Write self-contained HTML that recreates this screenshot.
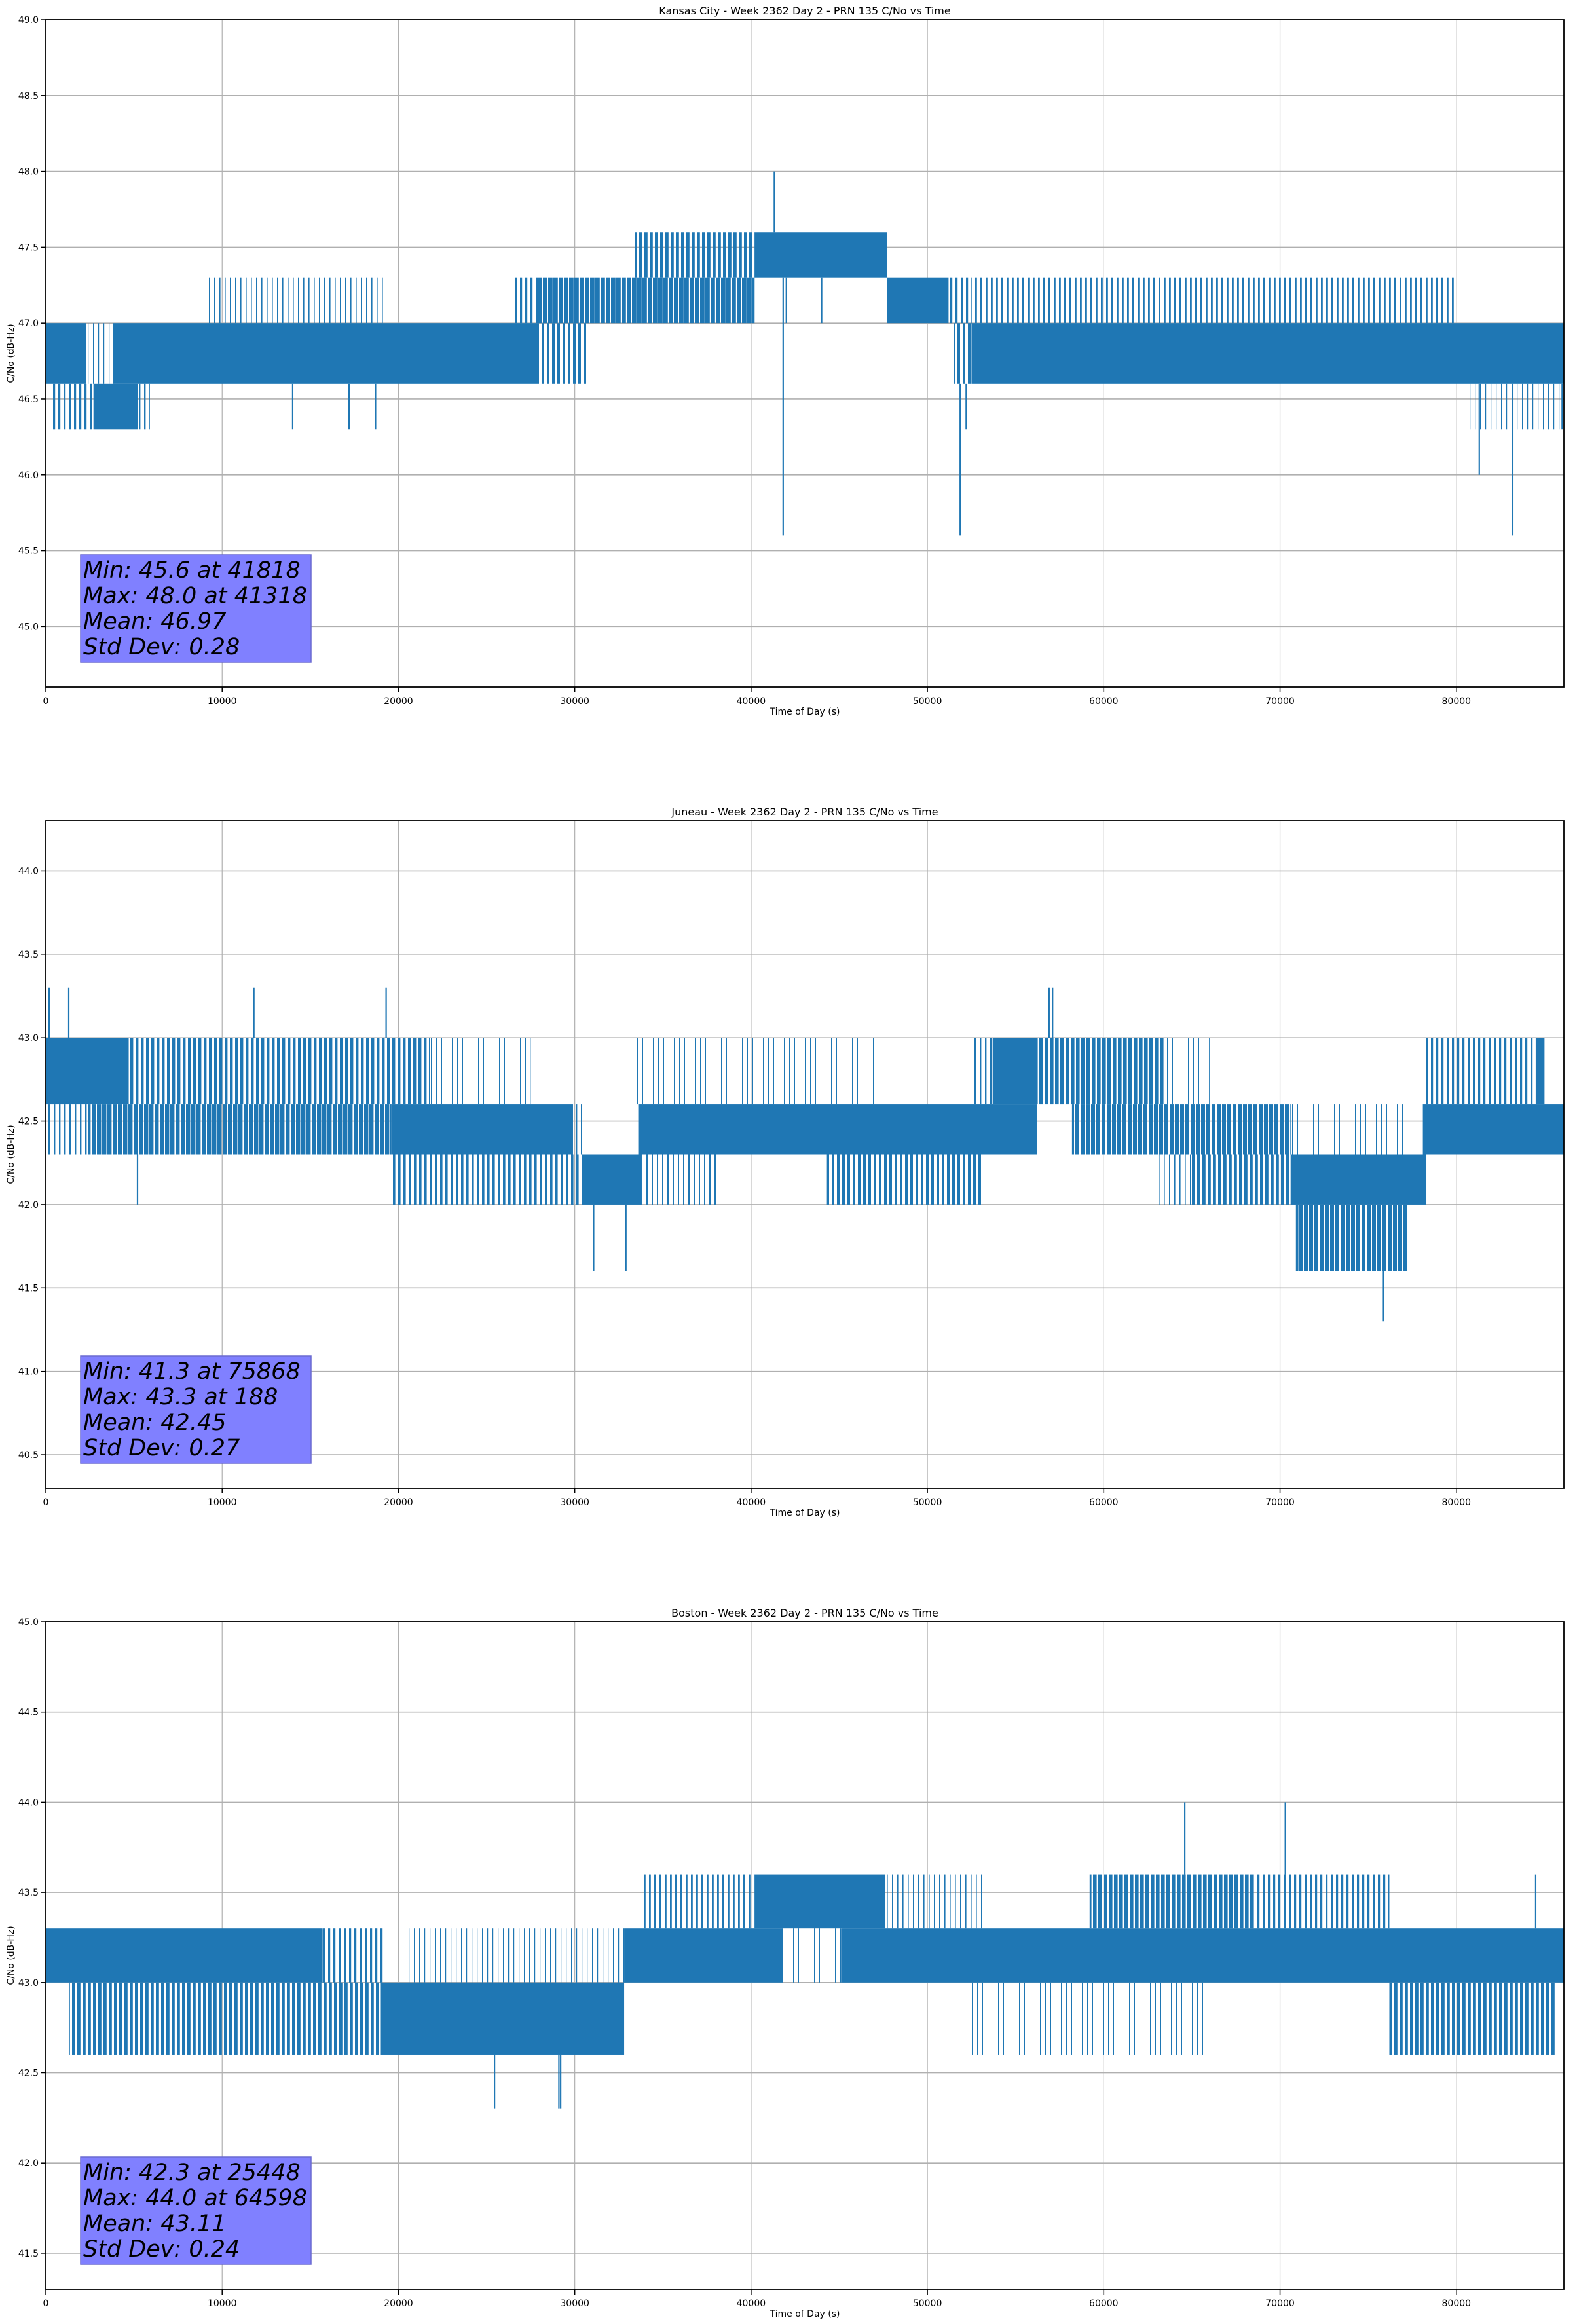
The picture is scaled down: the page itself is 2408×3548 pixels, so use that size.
<!DOCTYPE html>
<html><head><meta charset="utf-8">
<style>
html,body{margin:0;padding:0;background:#fff;width:2408px;height:3548px;overflow:hidden}
svg{display:block;font-family:"DejaVu Sans","Liberation Sans",sans-serif}
</style></head>
<body>
<svg id="fig" width="2408" height="3548" viewBox="0 0 2408 3548" xmlns="http://www.w3.org/2000/svg"></svg>
<script>
// ---------- shared data ----------
const xTicks = [0,10000,20000,30000,40000,50000,60000,70000,80000];
const xMin = 0, xMax = 86100;

// ---------- Kansas City ----------
const p1Title = "Kansas City - Week 2362 Day 2 - PRN 135 C/No vs Time";
const p1YLim = [44.6, 49.0];
const p1YTicks = ["45.0","45.5","46.0","46.5","47.0","47.5","48.0","48.5","49.0"];
const p1Start = [0,3800,27900,2300,400,2700,5200,9200,26500,27900,33400,40200,47700,51200,51500,52500,52500,80700];
const p1End   = [2300,27900,30800,3800,2700,5200,5900,19300,27900,40200,40200,47700,51200,52500,52500,86100,80000,86000];
const p1Low   = [46.6,46.6,46.6,46.6,46.3,46.3,46.3,47.0,47.0,47.0,47.3,47.3,47.0,47.0,46.6,46.6,47.0,46.3];
const p1High  = [47.0,47.0,47.0,47.0,46.6,46.6,46.6,47.3,47.3,47.3,47.6,47.6,47.3,47.3,47.0,47.0,47.3,46.6];
const p1Dens  = [1,0.95,0.5,0.15,0.4,0.9,0.3,0.2,0.4,0.85,0.6,0.97,0.9,0.4,0.5,0.93,0.35,0.15];
const p1SpikeT  = [41318,41818,51860,52200,81300,83200,42000,44000,14000,17200,18700,86000];
const p1SpikeLo = [47.6,45.6,45.6,46.3,46.0,45.6,47.0,47.0,46.3,46.3,46.3,46.3];
const p1SpikeHi = [48.0,47.3,46.6,46.6,46.6,46.6,47.3,47.3,46.6,46.6,46.6,46.6];
const p1Stats = ["Min: 45.6 at 41818","Max: 48.0 at 41318","Mean: 46.97","Std Dev: 0.28"];

// ---------- Juneau ----------
const p2Title = "Juneau - Week 2362 Day 2 - PRN 135 C/No vs Time";
const p2YLim = [40.3, 44.3];
const p2YTicks = ["40.5","41.0","41.5","42.0","42.5","43.0","43.5","44.0"];
const p2Start = [0,4700,21800,33500,52500,53700,56200,63400,78100,84500,2400,19600,29900,33600,58200,70600,78100,19600,30400,33800,44300,63000,65000,70600,70900,0];
const p2End   = [4700,21800,27500,47000,53700,56200,63400,66000,84500,85000,19600,29900,30400,56200,70600,77000,86100,30400,33800,38000,53100,65000,70600,78300,77300,2400];
const p2Low   = [42.6,42.6,42.6,42.6,42.6,42.6,42.6,42.6,42.6,42.6,42.3,42.3,42.3,42.3,42.3,42.3,42.3,42.0,42.0,42.0,42.0,42.0,42.0,42.0,41.6,42.3];
const p2High  = [43.0,43.0,43.0,43.0,43.0,43.0,43.0,43.0,43.0,43.0,42.6,42.6,42.6,42.6,42.6,42.6,42.6,42.3,42.3,42.3,42.3,42.3,42.3,42.3,42.0,42.6];
const p2Dens  = [0.95,0.55,0.1,0.1,0.3,0.95,0.7,0.1,0.4,0.9,0.8,0.9,0.3,0.9,0.75,0.1,0.95,0.45,0.95,0.25,0.5,0.2,0.6,0.9,0.75,0.3];
const p2SpikeT  = [188,1300,11800,19300,56900,57100,5200,31070,32900,75868,71000];
const p2SpikeLo = [43.0,43.0,43.0,43.0,43.0,43.0,42.0,41.6,41.6,41.3,41.6];
const p2SpikeHi = [43.3,43.3,43.3,43.3,43.3,43.3,42.3,42.0,42.0,41.6,42.0];
const p2Stats = ["Min: 41.3 at 75868","Max: 43.3 at 188","Mean: 42.45","Std Dev: 0.27"];

// ---------- Boston ----------
const p3Title = "Boston - Week 2362 Day 2 - PRN 135 C/No vs Time";
const p3YLim = [41.3, 45.0];
const p3YTicks = ["41.5","42.0","42.5","43.0","43.5","44.0","44.5","45.0"];
const p3Start = [0,15700,20400,32800,41800,45100,1300,19000,76200,52000,33900,40200,47600,59200,68600];
const p3End   = [15700,19300,32800,41800,45100,86100,19000,32800,85600,66000,40200,47600,53100,68600,76200];
const p3Low   = [43.0,43.0,43.0,43.0,43.0,43.0,42.6,42.6,42.6,42.6,43.3,43.3,43.3,43.3,43.3];
const p3High  = [43.3,43.3,43.3,43.3,43.3,43.3,43.0,43.0,43.0,43.0,43.6,43.6,43.6,43.6,43.6];
const p3Dens  = [0.9,0.4,0.15,0.95,0.1,0.93,0.6,0.95,0.6,0.05,0.35,0.95,0.2,0.7,0.4];
const p3SpikeT  = [64598,70300,25448,29100,29200,84500];
const p3SpikeLo = [43.6,43.6,42.3,42.3,42.3,43.3];
const p3SpikeHi = [44.0,44.0,42.6,42.6,42.6,43.6];
const p3Stats = ["Min: 42.3 at 25448","Max: 44.0 at 64598","Mean: 43.11","Std Dev: 0.24"];

const NS = "http://www.w3.org/2000/svg";
const fig = document.getElementById('fig');
const BLUE = "#1f77b4";
const L = 70, R = 2388;
const defs = document.createElementNS(NS, 'defs');
fig.appendChild(defs);
let patCount = 0;

function mk(tag, attrs, parent){
  const e = document.createElementNS(NS, tag);
  for (const k in attrs) e.setAttribute(k, attrs[k]);
  (parent||fig).appendChild(e);
  return e;
}

function stripeFill(d){
  if (d >= 0.9) return BLUE;
  const id = 'stripe' + (patCount++);
  const period = 8;
  const p = mk('pattern', {id:id, patternUnits:'userSpaceOnUse', x:(patCount*3)%period, y:0, width:period, height:10}, defs);
  const w = Math.max(1, d * period);
  mk('rect', {x:0, y:0, width:w, height:10, fill:BLUE}, p);
  return 'url(#' + id + ')';
}

function drawPlot(key, top, bottom, title, yLim, yTicks, st, en, lo, hi, de, spT, spLo, spHi, stats){
  const g = mk('g', {});
  
  
  const xs = v => L + (v - xMin) / (xMax - xMin) * (R - L);
  const ys = v => bottom - (v - yLim[0]) / (yLim[1] - yLim[0]) * (bottom - top);

  xTicks.forEach(t => {
    const l = mk('line', {x1:xs(t), x2:xs(t), y1:top, y2:bottom, stroke:'#b0b0b0', 'stroke-width':1.2}, g);
    
    
  });
  yTicks.forEach(t => {
    const l = mk('line', {x1:L, x2:R, y1:ys(+t), y2:ys(+t), stroke:'#b0b0b0', 'stroke-width':1.6}, g);
    
    
  });

  const cid = key + '-clip';
  const cp = mk('clipPath', {id:cid}, g);
  mk('rect', {x:L, y:top, width:R-L, height:bottom-top}, cp);
  const dg = mk('g', {'clip-path':'url(#'+cid+')'}, g);
  
  

  for (let i = 0; i < st.length; i++){
    const r = mk('rect', {x:xs(st[i]), y:ys(hi[i]), width:Math.max(1, xs(en[i]) - xs(st[i])), height:ys(lo[i]) - ys(hi[i]), fill:stripeFill(de[i])}, dg);
    
    
  }
  for (let i = 0; i < spT.length; i++){
    const l = mk('line', {x1:xs(spT[i]), x2:xs(spT[i]), y1:ys(spLo[i]), y2:ys(spHi[i]), stroke:BLUE, 'stroke-width':2.2}, dg);
    
    
  }

  const fr = mk('rect', {x:L, y:top, width:R-L, height:bottom-top, fill:'none', stroke:'#000', 'stroke-width':1.8}, g);
  
  

  xTicks.forEach(t => {
    mk('line', {x1:xs(t), x2:xs(t), y1:bottom, y2:bottom+8, stroke:'#000', 'stroke-width':1.5}, g);
    const tx = mk('text', {x:xs(t), y:bottom+26, 'font-size':14, 'text-anchor':'middle', fill:'#000'}, g);
    tx.textContent = t;
    
    
  });
  yTicks.forEach(t => {
    mk('line', {x1:L-8, x2:L, y1:ys(+t), y2:ys(+t), stroke:'#000', 'stroke-width':1.5}, g);
    const tx = mk('text', {x:L-11, y:ys(+t)+5, 'font-size':14, 'text-anchor':'end', fill:'#000'}, g);
    tx.textContent = t;
    
    
  });

  const ti = mk('text', {x:(L+R)/2, y:top-8, 'font-size':16, 'text-anchor':'middle', fill:'#000'}, g);
  ti.textContent = title;
  
  

  const xl = mk('text', {x:(L+R)/2, y:bottom+42, 'font-size':14, 'text-anchor':'middle', fill:'#000'}, g);
  xl.textContent = 'Time of Day (s)';
  
  

  const cy = (top+bottom)/2;
  const yl = mk('text', {x:21, y:cy, 'font-size':14, 'text-anchor':'middle', fill:'#000', transform:'rotate(-90 21 '+cy+')'}, g);
  yl.textContent = 'C/No (dB-Hz)';
  
  

  const bx = 123, by = bottom - 202;
  const sb = mk('rect', {x:bx, y:by, width:352, height:164, fill:'#8080ff', stroke:'#6a6ad0', 'stroke-width':1.5}, g);
  
  
  stats.forEach((s, i) => {
    const tx = mk('text', {x:bx+4, y:by+35+i*39, 'font-size':35, 'font-style':'italic', fill:'#000'}, g);
    tx.textContent = s;
    
    
  });
}

drawPlot('kansas-city', 30, 1049, p1Title, p1YLim, p1YTicks, p1Start, p1End, p1Low, p1High, p1Dens, p1SpikeT, p1SpikeLo, p1SpikeHi, p1Stats);
drawPlot('juneau', 1253, 2272, p2Title, p2YLim, p2YTicks, p2Start, p2End, p2Low, p2High, p2Dens, p2SpikeT, p2SpikeLo, p2SpikeHi, p2Stats);
drawPlot('boston', 2476, 3495, p3Title, p3YLim, p3YTicks, p3Start, p3End, p3Low, p3High, p3Dens, p3SpikeT, p3SpikeLo, p3SpikeHi, p3Stats);
</script>
</body></html>
